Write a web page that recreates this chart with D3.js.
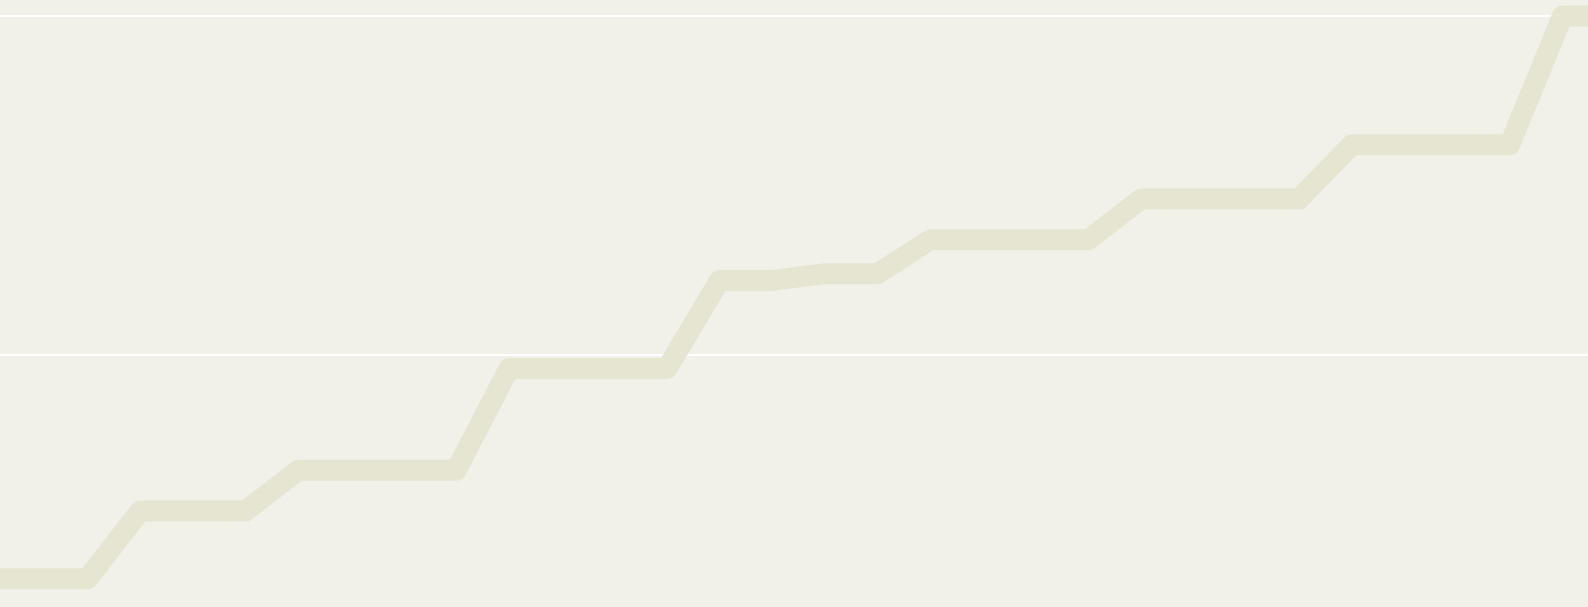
<!DOCTYPE html>
<html>
<head>
<meta charset="utf-8">
<script src="https://cdn.jsdelivr.net/npm/d3@7"></script>
<style>
    html, body {
        margin: 0;
        padding: 0;
        background: #f2f1e9;
        overflow: hidden;
    }
</style>
</head>
<body>
<div id="chart"></div>
<script>
// step values, one per period (the chart is cropped on both sides)
const periods = d3.range(0, 32);
const values = [
    17, 17, 17, 27, 27, 27, 33, 33, 33, 33,
    48, 48, 48, 48, 61, 61, 62, 62, 67, 67,
    67, 67, 73, 73, 73, 73, 81, 81, 81, 81,
    100, 100
];
const gridValues = [50, 100];

const width = 1588;
const height = 607;

const svg = d3.select("#chart").append("svg")
    .attr("width", width)
    .attr("height", height)
    .style("display", "block")
    .style("background", "#f2f1e9");

const x = d3.scaleLinear()
    .domain([0, periods.length - 1])
    .range([-17.8, 1615.1]);

const y = d3.scaleLinear()
    .domain([0, 100])
    .range([694, 16]);

// white horizontal grid
svg.append("g")
    .selectAll("line")
    .data(gridValues)
    .join("line")
    .attr("x1", 0)
    .attr("x2", width)
    .attr("y1", (d) => y(d))
    .attr("y2", (d) => y(d))
    .attr("stroke", "#ffffff")
    .attr("stroke-width", 2);

const line = d3.line()
    .x((d, i) => x(periods[i]))
    .y((d) => y(d));

svg.append("path")
    .datum(values)
    .attr("d", line)
    .attr("fill", "none")
    .attr("stroke", "#e6e5d2")
    .attr("stroke-width", 21)
    .attr("stroke-linejoin", "round")
    .attr("stroke-linecap", "round");
</script>
</body>
</html>
